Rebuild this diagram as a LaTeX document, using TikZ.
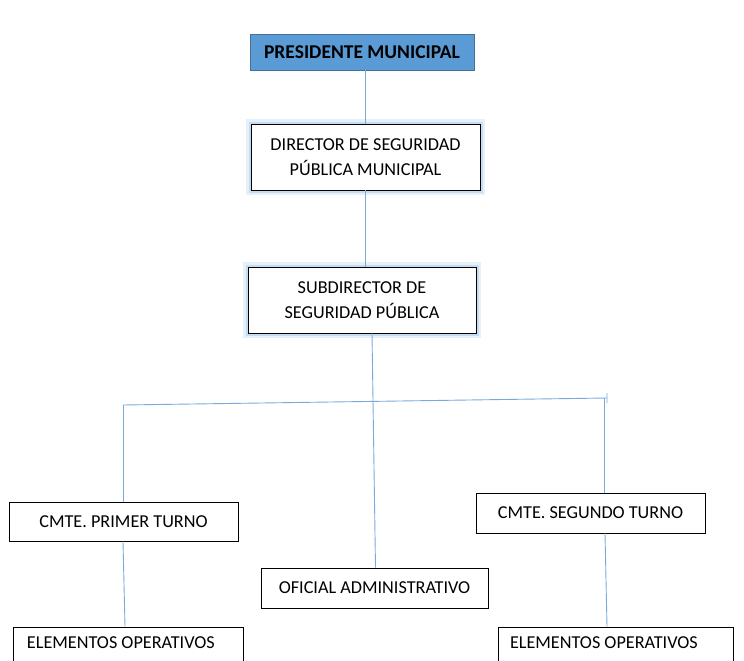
\documentclass[tikz,border=0pt]{standalone}
\usepackage{fontspec}
\setmainfont{Carlito}
\usetikzlibrary{calc}
\usetikzlibrary{positioning}

\definecolor{officeblue}{RGB}{91,155,213}
\definecolor{edgeblue}{RGB}{65,113,156}
\definecolor{linkblue}{RGB}{120,170,220}

\tikzset{
    post/.style={draw=black, line width=0.9pt, fill=white, align=center,
        inner sep=0pt, font=\fontsize{18.2}{25}\selectfont},
    glowpost/.style={post, preaction={draw=officeblue!15, line width=10pt},
        preaction={draw=officeblue!35, line width=5pt}},
    basepost/.style={post, minimum height=40pt, text depth=9pt, align=flush left},
    link/.style={draw=linkblue, line width=0.9pt},
}

\begin{document}
\begin{tikzpicture}[x=1pt, y=-1pt]
    \useasboundingbox (0,0) rectangle (744,661);
    \clip (0,0) rectangle (744,661);

    % upper chain
    \node[post, draw=edgeblue, line width=0.5pt, fill=officeblue,
        minimum width=224pt, minimum height=36pt,
        font=\fontsize{19.5}{22}\selectfont\bfseries] (pres) at (362,52) {PRESIDENTE MUNICIPAL};
    \node[glowpost, minimum width=229pt, minimum height=66pt] (dir) at (365.5,157) {DIRECTOR DE SEGURIDAD\\PÚBLICA MUNICIPAL};
    \node[glowpost, minimum width=228pt, minimum height=66pt] (sub) at (362,300) {SUBDIRECTOR DE\\SEGURIDAD PÚBLICA};

    % lower boxes
    \node[post, minimum width=229pt, minimum height=39pt] (turno1) at (123.5,521.5) {CMTE. PRIMER TURNO};
    \node[post, minimum width=229pt, minimum height=40pt] (turno2) at (590.5,513) {CMTE. SEGUNDO TURNO};
    \node[post, minimum width=227pt, minimum height=40pt] (oficial) at (374.5,588) {OFICIAL ADMINISTRATIVO};
    \node[basepost, minimum width=230pt, text width=202pt] (elem1) at (128,647) {ELEMENTOS OPERATIVOS};
    \node[basepost, minimum width=235pt, text width=211pt] (elem2) at (615.5,647) {ELEMENTOS OPERATIVOS};

    % branch points
    \coordinate (barL) at (123,405);
    \coordinate (barR) at (607,398);
    \coordinate (dropR) at (604,398);

    \draw[link] (dir.north |- pres.south) -- (dir.north);
    \draw[link] (dir.south) -- (dir.south |- sub.north);
    \draw[link] ($(sub.south)+(10,0)$) -- ($(oficial.north)+(1,0)$);
    \draw[link] (barL) -- (barR) ++(0,-5) -- ++(0,10);
    \draw[link] (barL) -- (turno1.north -| barL);
    \draw[link] (dropR) -- (turno2.north -| dropR);
    \draw[link] (turno1.south -| barL) -- ($(elem1.north -| barL)+(2,0)$);
    \draw[link] ($(turno2.south -| dropR)+(1,0)$) -- ($(elem2.north -| dropR)+(3,0)$);
\end{tikzpicture}
\end{document}
